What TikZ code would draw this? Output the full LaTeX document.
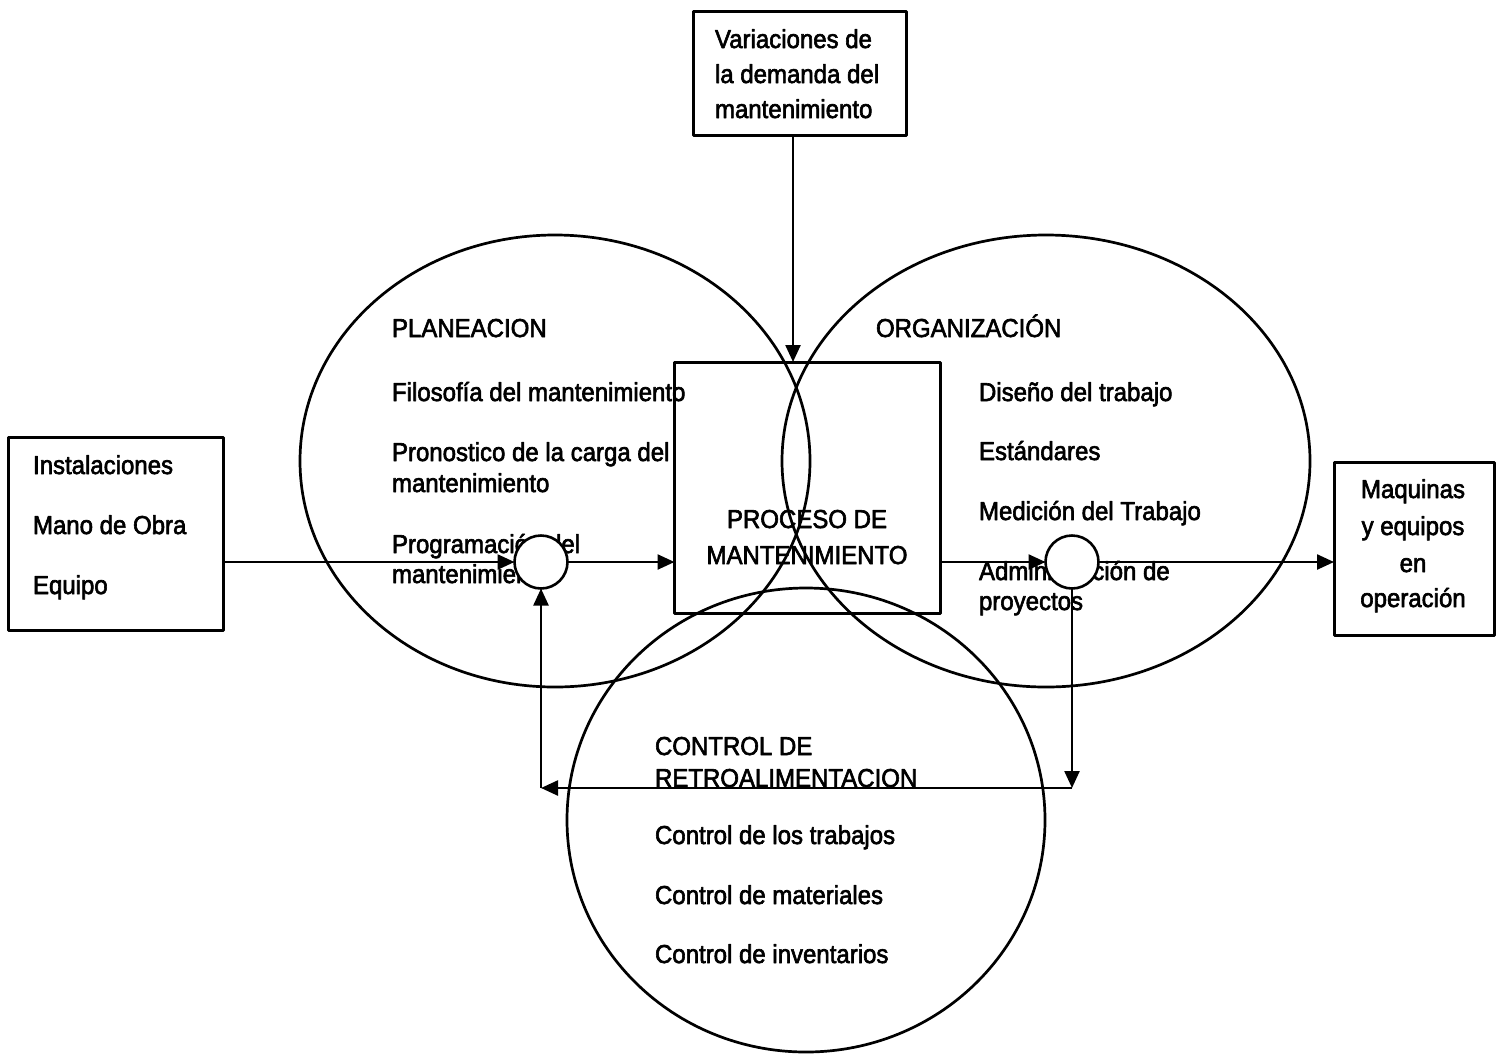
\documentclass[tikz,border=0pt]{standalone}
\usepackage{fontspec}
\setmainfont[FakeBold=2.5]{Liberation Sans}
\usetikzlibrary{arrows.meta}
\begin{document}
\begin{tikzpicture}[x=0.5pt,y=-0.5pt,line join=round,
  txt/.style={anchor=base west,inner sep=0pt,outer sep=0pt,font=\fontsize{12}{14}\selectfont,yscale=1.08},
  ctxt/.style={txt,anchor=base},
  box/.style={draw,line width=1.5pt,inner sep=0pt,outer sep=0pt},
  junc/.style={circle,draw,fill=white,line width=1.3pt,minimum size=26.5pt,inner sep=0pt,outer sep=0pt},
  arr/.style={line width=1.2pt,-{Triangle[length=8.5pt,width=7.5pt]}}]
\useasboundingbox (0,0) rectangle (1502,1055);

\draw[line width=1.35pt] (555,461) ellipse [x radius=127.5pt,y radius=113pt];
\draw[line width=1.35pt] (1046,461) ellipse [x radius=132pt,y radius=113pt];
\draw[line width=1.35pt] (806,820) ellipse [x radius=119.5pt,y radius=116pt];

\node[box,minimum width=106.5pt,minimum height=62pt] (dem) at (799.5,73) {};
\node[box,minimum width=107.5pt,minimum height=96.5pt] (ins) at (115.5,533.5) {};
\node[box,minimum width=133pt,minimum height=125.5pt] (proc) at (807.5,487.5) {};
\node[box,minimum width=80pt,minimum height=86.5pt] (maq) at (1414,549) {};

\node[txt] (dem1) at (715,48) {Variaciones de};
\node[txt] (dem2) at (715,83) {la demanda del};
\node[txt] (dem3) at (715,118) {mantenimiento};

\node[txt] (ins1) at (33,474) {Instalaciones};
\node[txt] (ins2) at (33,534) {Mano de Obra};
\node[txt] (ins3) at (33,594) {Equipo};

\node[ctxt] (proc1) at (807,528) {PROCESO DE};
\node[ctxt] (proc2) at (807,564) {MANTENIMIENTO};

\node[ctxt] (maq1) at (1413,498) {Maquinas};
\node[ctxt] (maq2) at (1413,535) {y equipos};
\node[ctxt] (maq3) at (1413,572) {en};
\node[ctxt] (maq4) at (1413,607) {operación};

\node[txt] (plan) at (392,337) {PLANEACION};
\node[txt] (plan1) at (392,401) {Filosofía del mantenimiento};
\node[txt] (plan2) at (392,461) {Pronostico de la carga del};
\node[txt] (plan3) at (392,492) {mantenimiento};
\node[txt] (plan4) at (392,553) {Programación del};
\node[txt] (plan5) at (392,583) {mantenimiento};

\node[txt] (org) at (876,337) {ORGANIZACIÓN};
\node[txt] (org1) at (979,401) {Diseño del trabajo};
\node[txt] (org2) at (979,460) {Estándares};
\node[txt] (org3) at (979,520) {Medición del Trabajo};
\node[txt] (org4) at (979,580) {Administración de};
\node[txt] (org5) at (979,610) {proyectos};

\node[txt] (ctl) at (655,755) {CONTROL DE};
\node[txt] (ctl0) at (655,787) {RETROALIMENTACION};
\node[txt] (ctl1) at (655,844) {Control de los trabajos};
\node[txt] (ctl2) at (655,904) {Control de materiales};
\node[txt] (ctl3) at (655,963) {Control de inventarios};

\node[junc] (jl) at (541,562) {};
\node[junc] (jr) at (1072,562) {};
\coordinate (din) at (793,362);
\coordinate (fbr) at (1072,788);
\coordinate (fbl) at (jl |- fbr);

\draw[arr] (dem.south -| din) -- (din);
\draw[arr] (ins.east |- jl) -- (jl.west);
\draw[arr] (jl.east) -- (proc.west |- jl);
\draw[arr] (proc.east |- jr) -- (jr.west);
\draw[arr] (jr.east) -- (maq.west |- jr);
\draw[arr] (jr.south) -- (fbr);
\draw[arr] (fbr) -- (fbl);
\draw[arr] (fbl) -- (jl.south);
\end{tikzpicture}
\end{document}
